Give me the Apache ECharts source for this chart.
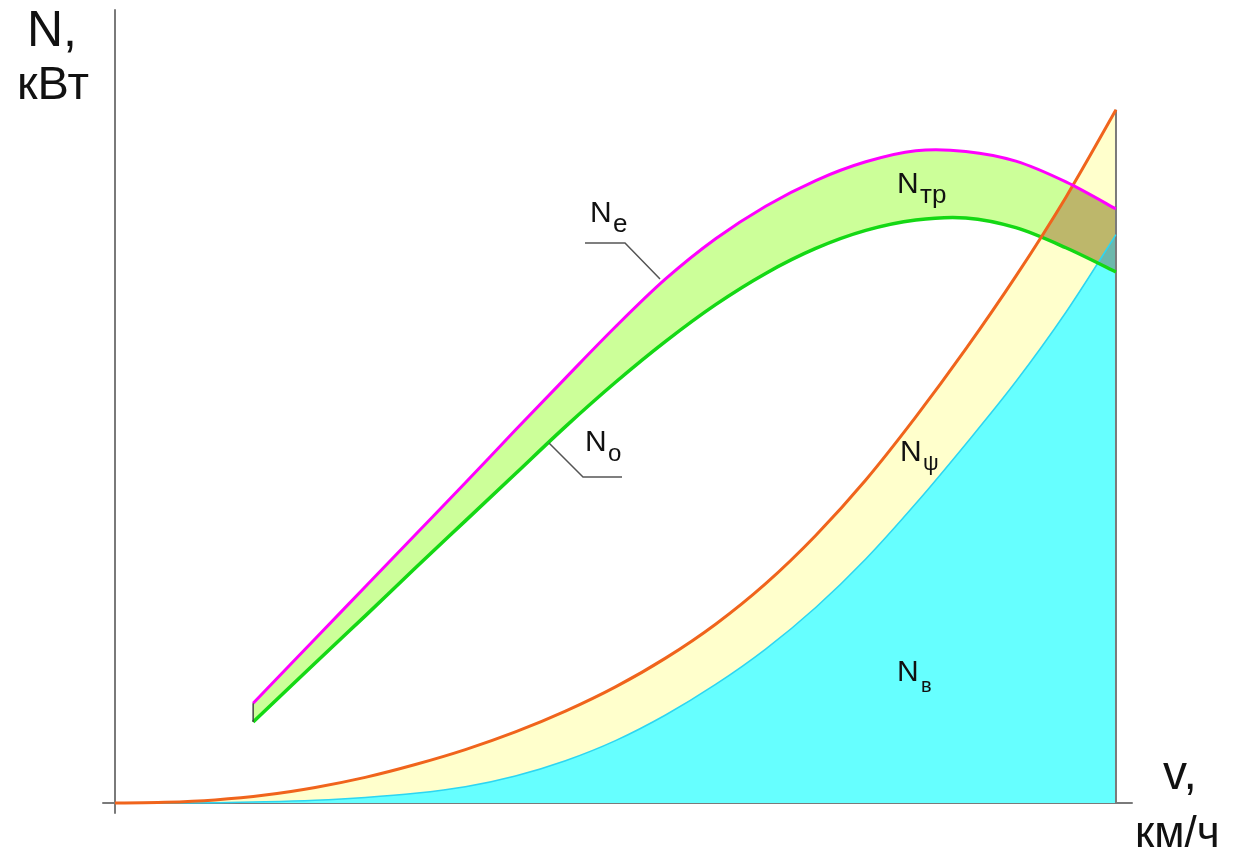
<!DOCTYPE html>
<html>
<head>
<meta charset="utf-8">
<script src="https://cdn.jsdelivr.net/npm/echarts@6/dist/echarts.min.js"></script>
<style>
  html, body { margin: 0; padding: 0; background: #ffffff; }
  #chart { width: 1240px; height: 856px; }
</style>
</head>
<body>
<div id="chart"></div>
<script>
// Speed grid for the resistance curves (relative units, 0..100)
const speed = [0, 5, 10, 15, 20, 25, 30, 35, 40, 45, 50, 55, 60, 65, 70, 75, 80, 85, 90, 95, 100];
// N_psi: power spent on road resistance
const powerRoad = [0, 0.1, 0.45, 1.15, 2.25, 3.7, 5.55, 7.7, 10.25, 13.25, 16.75, 20.9, 25.8, 31.65, 38.6, 46.6, 55.7, 65.5, 76.0, 87.4, 100];
// N_v: power spent on air resistance
const powerAir = [0, 0.01, 0.05, 0.17, 0.4, 0.8, 1.4, 2.35, 3.9, 6.1, 9.0, 12.7, 17.1, 22.2, 28.2, 35.2, 43.2, 51.8, 60.8, 70.8, 82.0];

// Speed grid for the engine curves
const speedEngine = [13.8, 20, 25, 30, 35, 40, 45, 50, 55, 60, 65, 70, 75, 80, 85, 90, 95, 100];
// N_e: effective engine power
const powerEngine = [14.4, 23.7, 31.2, 38.7, 46.2, 53.8, 61.3, 68.7, 75.6, 81.4, 86.1, 89.8, 92.5, 94.1, 94.0, 92.6, 89.6, 85.7];
// N_o: power delivered to the driving wheels
const powerWheel = [11.7, 20.2, 27.0, 33.9, 40.7, 47.5, 54.3, 60.7, 66.6, 71.9, 76.4, 80.0, 82.6, 84.1, 84.4, 83.0, 80.1, 76.6];

const FONT = '"Liberation Sans", Arial, sans-serif';

// Catmull-Rom spline through pixel points, written as cubic Bezier segments
function splinePath(pts, start) {
  let d = (start ? 'M' : 'L') + pts[0][0] + ' ' + pts[0][1];
  const n = pts.length;
  for (let i = 0; i < n - 1; i++) {
    const p0 = pts[Math.max(i - 1, 0)], p1 = pts[i], p2 = pts[i + 1], p3 = pts[Math.min(i + 2, n - 1)];
    const c1x = p1[0] + (p2[0] - p0[0]) / 6, c1y = p1[1] + (p2[1] - p0[1]) / 6;
    const c2x = p2[0] - (p3[0] - p1[0]) / 6, c2y = p2[1] - (p3[1] - p1[1]) / 6;
    d += ' C' + c1x + ' ' + c1y + ' ' + c2x + ' ' + c2y + ' ' + p2[0] + ' ' + p2[1];
  }
  return d;
}
function toPixels(api, xs, ys) {
  return xs.map((x, i) => api.coord([x, ys[i]]));
}
function areaUnder(api, xs, ys) {
  const pts = toPixels(api, xs, ys);
  const b0 = api.coord([xs[0], 0]);
  const b1 = api.coord([xs[xs.length - 1], 0]);
  return 'M' + b0[0] + ' ' + b0[1] + ' ' + splinePath(pts, false) + ' L' + b1[0] + ' ' + b1[1] + ' Z';
}
function bandBetween(api, xs, top, bottom) {
  const t = toPixels(api, xs, top);
  const b = toPixels(api, xs, bottom).reverse();
  return splinePath(t, true) + ' ' + splinePath(b, false) + ' Z';
}
function pathEl(d, style, extra) {
  return Object.assign({ type: 'path', shape: { pathData: d }, style: style }, extra || {});
}

function renderDiagram(params, api) {
  const roadPts = toPixels(api, speed, powerRoad);
  const airPts = toPixels(api, speed, powerAir);
  const enginePts = toPixels(api, speedEngine, powerEngine);
  const wheelPts = toPixels(api, speedEngine, powerWheel);
  const band = bandBetween(api, speedEngine, powerEngine, powerWheel);
  const endTop = api.coord([speed[speed.length - 1], powerRoad[powerRoad.length - 1]]);
  const endBase = api.coord([speed[speed.length - 1], 0]);

  return {
    type: 'group',
    children: [
      // road resistance zone (between N_v and N_psi)
      pathEl(areaUnder(api, speed, powerRoad), { fill: '#ffffcc', stroke: null }),
      // air resistance zone
      pathEl(areaUnder(api, speed, powerAir), { fill: '#66ffff', stroke: null }),
      // transmission losses (between N_o and N_e)
      pathEl(band, { fill: '#ccff99', stroke: null }),
      // losses band overlapping the road zone
      pathEl(band, { fill: '#bdb76b', stroke: null }, {
        clipPath: { type: 'path', shape: { pathData: bandBetween(api, speed, powerRoad, powerAir) } }
      }),
      // losses band overlapping the air zone
      pathEl(band, { fill: '#6cb8ac', stroke: null }, {
        clipPath: { type: 'path', shape: { pathData: areaUnder(api, speed, powerAir) } }
      }),
      // right boundary at maximum speed
      { type: 'line', shape: { x1: endBase[0], y1: endBase[1], x2: endTop[0], y2: endTop[1] },
        style: { stroke: '#7a7a7a', lineWidth: 2 } },
      // curves
      pathEl(splinePath(airPts, true), { fill: null, stroke: '#2cd6f2', lineWidth: 1.5 }),
      pathEl(splinePath(wheelPts, true), { fill: null, stroke: '#14d814', lineWidth: 3.5 }),
      pathEl(splinePath(roadPts, true), { fill: null, stroke: '#f0641c', lineWidth: 3 }),
      pathEl(splinePath(enginePts, true), { fill: null, stroke: '#ff00ff', lineWidth: 3 }),
      // closing stroke at the lowest engine speed
      { type: 'line', shape: { x1: enginePts[0][0], y1: enginePts[0][1], x2: wheelPts[0][0], y2: wheelPts[0][1] },
        style: { stroke: '#444444', lineWidth: 1.5 } }
    ]
  };
}

// text placed by its baseline
function label(x, baseline, text, size, align) {
  return {
    type: 'text', x: x, y: baseline - 0.3465 * size, z: 10,
    style: { text: text, font: size + 'px ' + FONT, fill: '#111111', align: align || 'left', verticalAlign: 'middle' }
  };
}
function leader(points) {
  return { type: 'polyline', z: 10, shape: { points: points }, style: { stroke: '#555555', lineWidth: 1.5, fill: null } };
}

const chart = echarts.init(document.getElementById('chart'), null, { renderer: 'canvas' });
chart.setOption({
  animation: false,
  backgroundColor: '#ffffff',
  grid: { left: 103, right: 108, top: 10, bottom: 43 },
  xAxis: {
    type: 'value', min: -1.2, max: 101.6,
    axisLine: { show: true, onZero: true, lineStyle: { color: '#7a7a7a', width: 2 } },
    axisTick: { show: false }, axisLabel: { show: false }, splitLine: { show: false }
  },
  yAxis: {
    type: 'value', min: -1.44, max: 114.4,
    axisLine: { show: true, onZero: true, lineStyle: { color: '#7a7a7a', width: 2 } },
    axisTick: { show: false }, axisLabel: { show: false }, splitLine: { show: false }
  },
  series: [{
    type: 'custom',
    data: [[0, 0]],
    renderItem: renderDiagram,
    z: 1,
    silent: true
  }],
  graphic: [
    label(52, 50, 'N,', 50, 'center'),
    label(53, 102, 'кВт', 47, 'center'),
    label(1163, 792, 'v,', 48),
    label(1135, 850, 'км/ч', 44),

    leader([[585, 243], [625, 243], [660, 279]]),
    label(590, 224, 'N', 30),
    label(613, 234, 'e', 26),

    leader([[549, 443], [583, 477], [622, 477]]),
    label(585, 453, 'N', 30),
    label(608, 463, 'o', 24),

    label(897, 195, 'N', 30),
    label(920, 205, 'тр', 26),

    label(900, 463, 'N', 30),
    label(923, 472, 'ψ', 22),

    label(897, 683, 'N', 30),
    label(921, 693, 'в', 20)
  ]
});
</script>
</body>
</html>
